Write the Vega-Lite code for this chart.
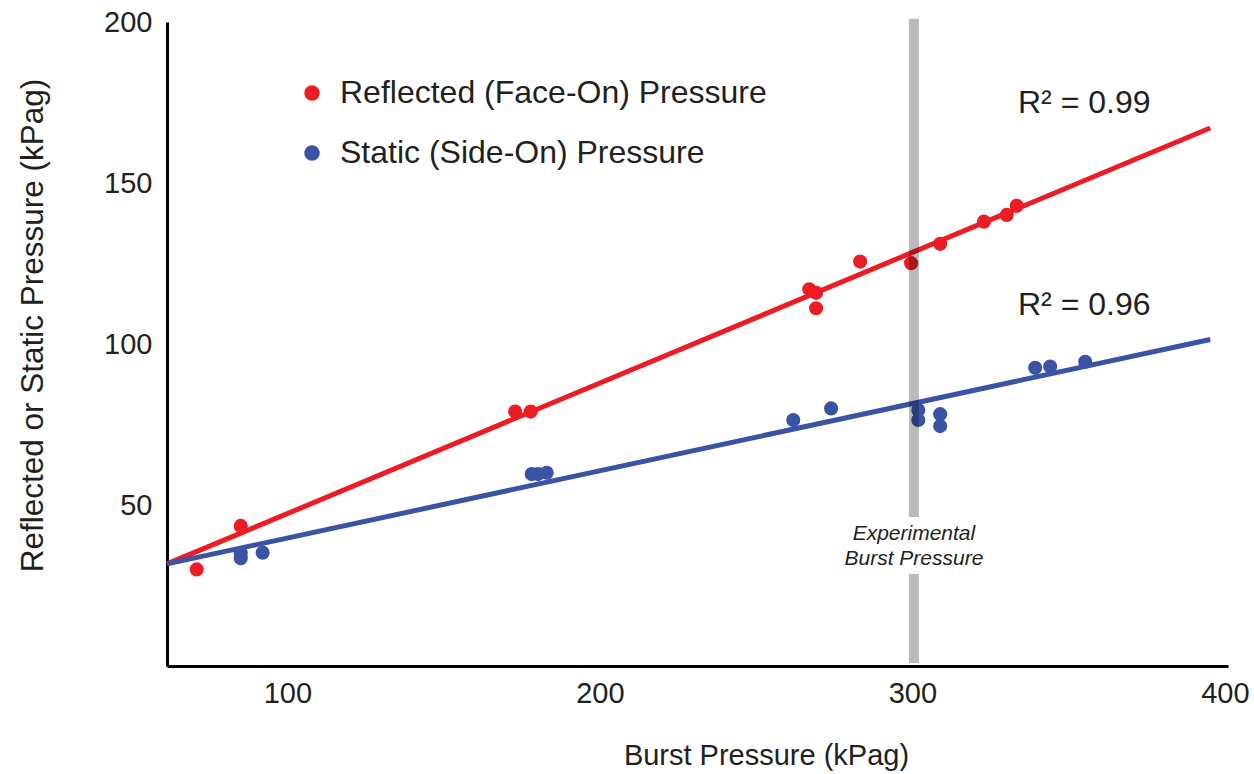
{
  "$schema": "https://vega.github.io/schema/vega-lite/v6.json",
  "width": 1061,
  "height": 644,
  "autosize": {"type": "none"},
  "padding": {"left": 167, "top": 22, "right": 26, "bottom": 108},
  "background": "white",
  "config": {
    "view": {"stroke": null},
    "font": "Liberation Sans",
    "axis": {
      "domainColor": "#000000",
      "domainWidth": 3,
      "ticks": false,
      "grid": false,
      "labelFont": "Liberation Sans",
      "labelFontSize": 29,
      "labelColor": "#231f20",
      "titleFont": "Liberation Sans",
      "titleFontWeight": "normal",
      "titleColor": "#231f20"
    },
    "legend": {
      "orient": "none",
      "legendX": 129,
      "legendY": 55,
      "padding": 0,
      "symbolType": "circle",
      "symbolSize": 240,
      "symbolStrokeWidth": 0,
      "symbolOpacity": 1,
      "labelFont": "Liberation Sans",
      "labelFontSize": 32,
      "labelColor": "#231f20",
      "labelOffset": 12,
      "rowPadding": 28,
      "labelLimit": 700
    }
  },
  "datasets": {
    "measured": [
      {"burst": 71.0, "pressure": 30.0, "series": "Reflected (Face-On) Pressure"},
      {"burst": 85.1, "pressure": 43.5, "series": "Reflected (Face-On) Pressure"},
      {"burst": 172.9, "pressure": 79.0, "series": "Reflected (Face-On) Pressure"},
      {"burst": 177.9, "pressure": 79.0, "series": "Reflected (Face-On) Pressure"},
      {"burst": 267.0, "pressure": 117.0, "series": "Reflected (Face-On) Pressure"},
      {"burst": 269.2, "pressure": 115.9, "series": "Reflected (Face-On) Pressure"},
      {"burst": 269.2, "pressure": 111.1, "series": "Reflected (Face-On) Pressure"},
      {"burst": 283.3, "pressure": 125.6, "series": "Reflected (Face-On) Pressure"},
      {"burst": 299.6, "pressure": 125.1, "series": "Reflected (Face-On) Pressure"},
      {"burst": 308.9, "pressure": 131.1, "series": "Reflected (Face-On) Pressure"},
      {"burst": 322.9, "pressure": 138.0, "series": "Reflected (Face-On) Pressure"},
      {"burst": 330.2, "pressure": 140.1, "series": "Reflected (Face-On) Pressure"},
      {"burst": 333.4, "pressure": 142.9, "series": "Reflected (Face-On) Pressure"},
      {"burst": 85.1, "pressure": 35.0, "series": "Static (Side-On) Pressure"},
      {"burst": 85.1, "pressure": 33.5, "series": "Static (Side-On) Pressure"},
      {"burst": 92.1, "pressure": 35.2, "series": "Static (Side-On) Pressure"},
      {"burst": 178.2, "pressure": 59.6, "series": "Static (Side-On) Pressure"},
      {"burst": 180.2, "pressure": 59.6, "series": "Static (Side-On) Pressure"},
      {"burst": 183.0, "pressure": 60.0, "series": "Static (Side-On) Pressure"},
      {"burst": 261.9, "pressure": 76.4, "series": "Static (Side-On) Pressure"},
      {"burst": 274.0, "pressure": 80.0, "series": "Static (Side-On) Pressure"},
      {"burst": 301.9, "pressure": 79.5, "series": "Static (Side-On) Pressure"},
      {"burst": 301.9, "pressure": 76.4, "series": "Static (Side-On) Pressure"},
      {"burst": 308.9, "pressure": 78.2, "series": "Static (Side-On) Pressure"},
      {"burst": 308.9, "pressure": 74.5, "series": "Static (Side-On) Pressure"},
      {"burst": 339.3, "pressure": 92.6, "series": "Static (Side-On) Pressure"},
      {"burst": 344.1, "pressure": 93.0, "series": "Static (Side-On) Pressure"},
      {"burst": 355.3, "pressure": 94.5, "series": "Static (Side-On) Pressure"}
    ],
    "fits": [
      {"burst": 61.5, "pressure": 31.7, "fit": "reflected"},
      {"burst": 395.3, "pressure": 167.1, "fit": "reflected"},
      {"burst": 61.5, "pressure": 31.7, "fit": "static"},
      {"burst": 395.3, "pressure": 101.4, "fit": "static"}
    ],
    "experimental": [
      {"burst": 300.5, "pressure": 0.9, "top": 28.6},
      {"burst": 300.5, "pressure": 46.3, "top": 201}
    ],
    "experimentalLabel": [
      {"burst": 300.5, "pressure": 41.0, "label": "Experimental\nBurst Pressure"}
    ],
    "fitQuality": [
      {"burst": 333.8, "pressure": 171.7, "label": "R² = 0.99"},
      {"burst": 333.8, "pressure": 109.0, "label": "R² = 0.96"}
    ]
  },
  "encoding": {
    "x": {
      "field": "burst",
      "type": "quantitative",
      "scale": {"domain": [61.5, 401], "nice": false, "zero": false},
      "axis": {
        "values": [100, 200, 300, 400],
        "labelPadding": 13,
        "title": "Burst Pressure (kPag)",
        "titleFontSize": 29,
        "titleX": 599,
        "titleY": 89,
        "titleBaseline": "middle",
        "titleAlign": "center"
      }
    },
    "y": {
      "field": "pressure",
      "type": "quantitative",
      "scale": {"domain": [0, 200], "nice": false, "zero": false},
      "axis": {
        "values": [50, 100, 150, 200],
        "labelPadding": 15,
        "title": "Reflected or Static Pressure (kPag)",
        "titleFontSize": 31.5,
        "titleX": -134,
        "titleY": 303,
        "titleAngle": -90,
        "titleBaseline": "middle",
        "titleAlign": "center"
      }
    }
  },
  "layer": [
    {
      "data": {"name": "fits"},
      "mark": {"type": "line", "strokeWidth": 5, "strokeCap": "butt"},
      "encoding": {
        "stroke": {
          "field": "fit",
          "type": "nominal",
          "scale": {"domain": ["reflected", "static"], "range": ["#ed1c24", "#3a53a4"]},
          "legend": null
        }
      }
    },
    {
      "data": {"name": "measured"},
      "mark": {"type": "point", "filled": true, "opacity": 1, "size": 200, "shape": "circle"},
      "encoding": {
        "color": {
          "field": "series",
          "type": "nominal",
          "scale": {
            "domain": ["Reflected (Face-On) Pressure", "Static (Side-On) Pressure"],
            "range": ["#ed1c24", "#3a53a4"]
          },
          "legend": {"title": null}
        }
      }
    },
    {
      "data": {"name": "experimental"},
      "mark": {"type": "rule", "color": "#000000", "opacity": 0.27, "strokeWidth": 10},
      "encoding": {"y2": {"field": "top"}}
    },
    {
      "data": {"name": "experimentalLabel"},
      "mark": {
        "type": "text",
        "font": "Liberation Sans",
        "fontStyle": "italic",
        "fontSize": 21,
        "lineHeight": 25,
        "lineBreak": "\n",
        "align": "center",
        "baseline": "middle",
        "color": "#231f20"
      },
      "encoding": {"text": {"field": "label"}}
    },
    {
      "data": {"name": "fitQuality"},
      "mark": {
        "type": "text",
        "font": "Liberation Sans",
        "fontSize": 32,
        "align": "left",
        "baseline": "alphabetic",
        "color": "#231f20"
      },
      "encoding": {"text": {"field": "label"}}
    }
  ]
}
